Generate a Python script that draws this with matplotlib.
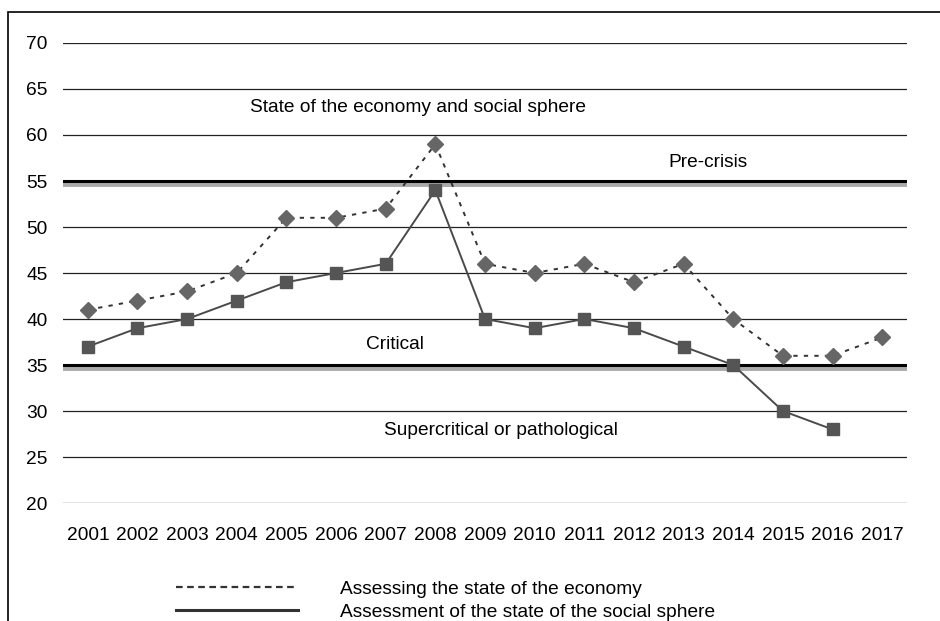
import matplotlib
matplotlib.use('Agg')
import matplotlib.pyplot as plt
from matplotlib.lines import Line2D
from matplotlib.patches import Rectangle

years = [str(y) for y in range(2001, 2018)]
economy = [41, 42, 43, 45, 51, 51, 52, 59, 46, 45, 46, 44, 46, 40, 36, 36, 38]
social = [37, 39, 40, 42, 44, 45, 46, 54, 40, 39, 40, 39, 37, 35, 30, 28]
yticks = [20, 25, 30, 35, 40, 45, 50, 55, 60, 65, 70]
thresholds = [55, 35]

plt.rcParams['font.family'] = ['Liberation Sans', 'DejaVu Sans']
fs = 13.8

fig = plt.figure(figsize=(9.4, 6.21), dpi=100)
ax = fig.add_axes([63/940, 1-503/621, 844/940, 460/621])

# frame round the figure
fig.patches.append(Rectangle((8/940, -0.1), 1.2, 1-12/621+0.1, transform=fig.transFigure,
                             fill=False, edgecolor='black', lw=1.2))

x = list(range(len(years)))
for v in yticks:
    ax.axhline(v, color='#222222', lw=0.9, zorder=1)
for t in thresholds:
    ax.axhline(t - 0.3, color='#aaaaaa', lw=3.5, zorder=2)
    ax.axhline(t + 0.05, color='black', lw=2.2, zorder=2)

ax.plot(x, economy, color='#333333', lw=1.4, ls=(0, (2.2, 3.2)), marker='D', ms=8.5,
        mfc='#666666', mec='#666666', zorder=3)
ax.plot(x[:len(social)], social, color='#4a4a4a', lw=1.4, marker='s', ms=8.5,
        mfc='#555555', mec='#555555', zorder=3)

ax.set_xlim(-0.5, len(years) - 0.5)
ax.set_ylim(20, 70)
ax.set_xticks(x)
ax.set_xticklabels(years)
ax.set_yticks(yticks)
ax.tick_params(length=0, labelsize=fs, colors='black')
ax.tick_params(axis='x', pad=17)
ax.tick_params(axis='y', pad=11)
for s in ax.spines.values():
    s.set_visible(False)

ax.text(6.65, 63.0, 'State of the economy and social sphere', ha='center', va='center', fontsize=fs)
ax.text(12.49, 57.0, 'Pre-crisis', ha='center', va='center', fontsize=fs)
ax.text(6.19, 37.2, 'Critical', ha='center', va='center', fontsize=fs)
ax.text(8.32, 27.9, 'Supercritical or pathological', ha='center', va='center', fontsize=fs)

handles = [Line2D([], [], color='#333333', lw=1.6, ls=(0, (3, 2))),
           Line2D([], [], color='#333333', lw=2.2)]
labels = ['Assessing the state of the economy', 'Assessment of the state of the social sphere']
fig.legend(handles, labels, loc='upper left', bbox_to_anchor=(166/940, 1-571/621),
           frameon=False, fontsize=fs, handlelength=6.4, handletextpad=2.2,
           labelspacing=0.3, borderpad=0)

fig.savefig('out.png', dpi=100)
